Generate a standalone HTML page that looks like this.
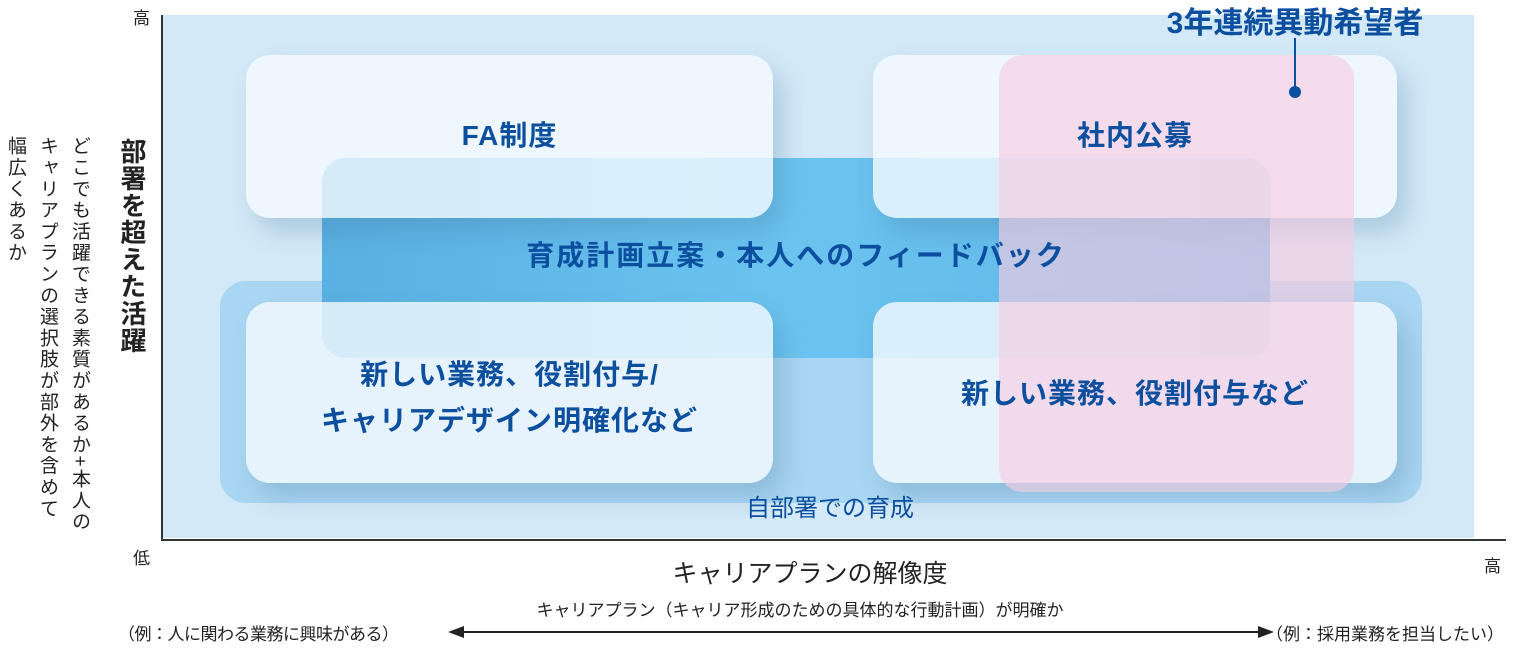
<!DOCTYPE html>
<html><head><meta charset="utf-8"><style>
body{margin:0;width:1536px;height:648px;background:#fff;position:relative;overflow:hidden;font-family:"Liberation Sans","Noto Sans CJK JP",sans-serif;}
.a{position:absolute}
.bg{left:163px;top:15px;width:1311px;height:523px;background:#d3e9f7}
.self{left:220px;top:281px;width:1202px;height:222px;border-radius:26px;background:#a9d6f2}
.band{left:322px;top:158px;width:948px;height:200px;border-radius:24px;background:linear-gradient(90deg,#59b0e2,#6bc4ef 50%,#5eb4e6)}
.box{border-radius:24px;background:rgba(245,250,254,0.8);box-shadow:10px 14px 24px rgba(60,110,150,0.25)}
.pink{left:999px;top:55px;width:355px;height:437px;border-radius:24px;background:rgba(246,205,226,0.65)}
.t{color:#0d4f9f;font-weight:bold;font-size:28px;text-align:center;white-space:nowrap;letter-spacing:1px}
.v{writing-mode:vertical-rl;color:#222;white-space:nowrap}
</style></head><body>
<div class="a bg"></div>
<div class="a self"></div>
<div class="a band"></div>
<div class="a box" style="left:246px;top:55px;width:527px;height:163px"></div>
<div class="a box" style="left:873px;top:55px;width:524px;height:163px"></div>
<div class="a box" style="left:246px;top:302px;width:527px;height:181px"></div>
<div class="a box" style="left:873px;top:302px;width:524px;height:181px"></div>
<div class="a pink"></div>
<div class="a" style="left:161px;top:15px;width:2px;height:526px;background:#333"></div>
<div class="a" style="left:161px;top:539px;width:1345px;height:2px;background:#333"></div>
<div class="a t" style="left:246px;top:114px;width:527px">FA制度</div>
<div class="a t" style="left:873px;top:114px;width:524px">社内公募</div>
<div class="a t" style="left:322px;top:234px;width:948px;letter-spacing:2px">育成計画立案・本人へのフィードバック</div>
<div class="a t" style="left:246px;top:352px;width:527px;line-height:46px">新しい業務、役割付与/<br>キャリアデザイン明確化など</div>
<div class="a t" style="left:873px;top:372px;width:524px">新しい業務、役割付与など</div>
<div class="a t" style="left:720px;top:488px;width:220px;font-weight:normal;font-size:24px;letter-spacing:0">自部署での育成</div>
<div class="a t" style="left:1150px;top:-2px;width:290px;font-size:30px;letter-spacing:0">3年連続異動希望者</div>
<div class="a" style="left:1294px;top:38px;width:2px;height:52px;background:#0d4f9f"></div>
<div class="a" style="left:1289px;top:86px;width:12px;height:12px;border-radius:50%;background:#0d4f9f"></div>
<div class="a" style="left:133px;top:4px;font-size:17px;color:#222">高</div>
<div class="a" style="left:133px;top:544px;font-size:17px;color:#222">低</div>
<div class="a" style="left:1484px;top:552px;font-size:17px;color:#222">高</div>
<div class="a v" style="left:114px;top:138px;font-size:26px;font-weight:bold;letter-spacing:1px">部署を超えた活躍</div>
<div class="a v" style="left:66px;top:136px;font-size:19px;letter-spacing:2.3px">どこでも活躍できる素質があるか+本人の</div>
<div class="a v" style="left:34px;top:136px;font-size:19px;letter-spacing:2.3px">キャリアプランの選択肢が部外を含めて</div>
<div class="a v" style="left:2px;top:136px;font-size:19px;letter-spacing:2.3px">幅広くあるか</div>
<div class="a" style="left:560px;top:554px;width:500px;text-align:center;font-size:25px;color:#222">キャリアプランの解像度</div>
<div class="a" style="left:420px;top:596px;width:760px;text-align:center;font-size:17px;color:#222">キャリアプラン（キャリア形成のための具体的な行動計画）が明確か</div>
<div class="a" style="left:118px;top:620px;font-size:17px;color:#222;letter-spacing:-0.5px">（例：人に関わる業務に興味がある）</div>
<div class="a" style="left:1266px;top:620px;font-size:17px;color:#222">（例：採用業務を担当したい）</div>
<svg class="a" style="left:446px;top:620px" width="830" height="24"><line x1="14" y1="12" x2="816" y2="12" stroke="#222" stroke-width="2"/><polygon points="2,12 18,6 18,18" fill="#222"/><polygon points="828,12 812,6 812,18" fill="#222"/></svg>
</body></html>
